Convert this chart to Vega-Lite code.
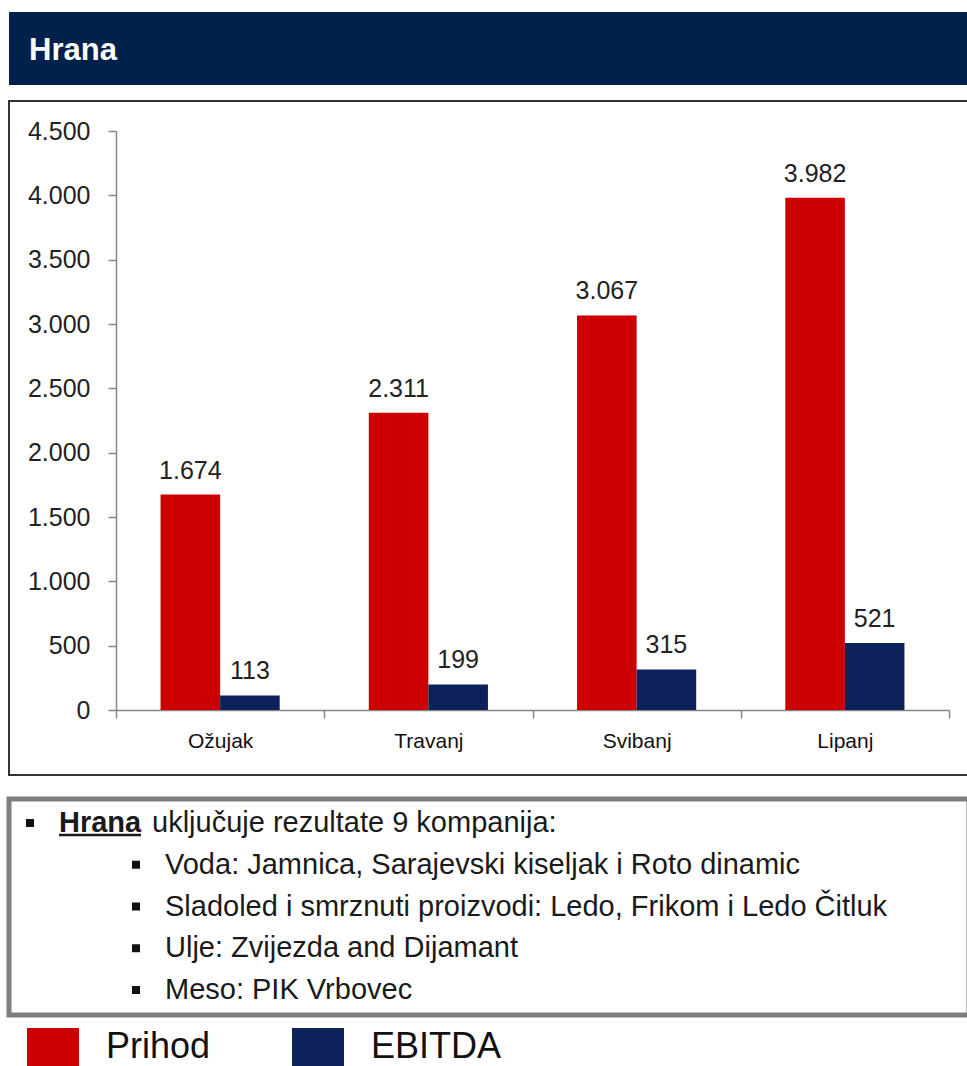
{
  "$schema": "https://vega.github.io/schema/vega-lite/v6.json",
  "padding": {"left": 6, "top": 12, "right": 0, "bottom": 0},
  "background": "white",
  "config": {
    "font": "Liberation Sans",
    "locale": {"number": {"decimal": ",", "thousands": ".", "grouping": [3], "currency": ["", ""]}},
    "view": {"stroke": null}
  },
  "spacing": 15,
  "vconcat": [
    {
      "width": 960,
      "height": 73,
      "view": {"fill": "#00214A", "stroke": null},
      "data": {"values": [{"heading": "Hrana"}]},
      "mark": {"type": "text", "x": 20, "y": 48, "align": "left", "baseline": "alphabetic", "fontSize": 31, "fontWeight": "bold", "color": "#FFFFFF"},
      "encoding": {"text": {"field": "heading"}}
    },
    {
      "spacing": 20,
      "vconcat": [
        {
          "width": 960,
          "height": 674,
          "view": {"stroke": "#333333", "strokeWidth": 2, "fill": "white"},
          "data": {"values": [
            {"month": "Ožujak", "series": "Prihod", "value": 1674},
            {"month": "Ožujak", "series": "EBITDA", "value": 113},
            {"month": "Travanj", "series": "Prihod", "value": 2311},
            {"month": "Travanj", "series": "EBITDA", "value": 199},
            {"month": "Svibanj", "series": "Prihod", "value": 3067},
            {"month": "Svibanj", "series": "EBITDA", "value": 315},
            {"month": "Lipanj", "series": "Prihod", "value": 3982},
            {"month": "Lipanj", "series": "EBITDA", "value": 521}
          ]},
          "encoding": {
            "x": {
              "field": "month", "type": "nominal",
              "sort": ["Ožujak", "Travanj", "Svibanj", "Lipanj"],
              "scale": {"type": "band", "range": [107, 940], "paddingInner": 0, "paddingOuter": 0},
              "axis": {"title": null, "orient": "bottom", "offset": -65, "labelAngle": 0, "labelFontSize": 21, "labelColor": "#111111", "labelPadding": 12, "tickBand": "extent", "tickSize": 8, "tickColor": "#868686", "tickWidth": 1.5, "domainColor": "#868686", "domainWidth": 1.5, "grid": false}
            },
            "xOffset": {
              "field": "series", "type": "nominal", "sort": ["Prihod", "EBITDA"],
              "scale": {"domain": ["Prihod", "EBITDA"], "paddingInner": 0, "paddingOuter": 0.748}
            },
            "y": {
              "field": "value", "type": "quantitative",
              "scale": {"domain": [0, 4500], "range": [609, 30], "nice": false, "zero": true},
              "axis": {"title": null, "offset": -107, "values": [0, 500, 1000, 1500, 2000, 2500, 3000, 3500, 4000, 4500], "format": ",d", "labelFontSize": 25, "labelColor": "#222222", "labelPadding": 18, "tickSize": 8, "tickColor": "#868686", "tickWidth": 1.5, "domainColor": "#868686", "domainWidth": 1.5, "grid": false}
            }
          },
          "layer": [
            {
              "mark": {"type": "bar"},
              "encoding": {
                "color": {
                  "field": "series", "type": "nominal",
                  "scale": {"domain": ["Prihod", "EBITDA"], "range": ["#CC0000", "#0D215A"]},
                  "legend": {
                    "orient": "none", "legendX": 25, "legendY": 1016,
                    "direction": "horizontal", "title": null, "padding": 0,
                    "symbolType": "M-1.368,-1L1.368,-1L1.368,1L-1.368,1Z",
                    "symbolSize": 1444, "symbolStrokeWidth": 0,
                    "labelFontSize": 36, "labelOffset": 34, "labelColor": "#111111",
                    "columnPadding": 81
                  }
                }
              }
            },
            {
              "mark": {"type": "text", "baseline": "alphabetic", "dy": -16, "fontSize": 25, "color": "#222222"},
              "encoding": {"text": {"field": "value", "type": "quantitative", "format": ",d"}}
            }
          ]
        },
        {
          "width": 960,
          "height": 216,
          "view": {"stroke": "#7F7F7F", "strokeWidth": 5, "fill": "white"},
          "data": {"values": [
            {"line": 1, "level": 0, "segment": "lead", "text": "Hrana"},
            {"line": 1, "level": 0, "segment": "rest", "text": "uključuje rezultate 9 kompanija:"},
            {"line": 2, "level": 1, "segment": "item", "text": "Voda: Jamnica, Sarajevski kiseljak i Roto dinamic"},
            {"line": 3, "level": 1, "segment": "item", "text": "Sladoled i smrznuti proizvodi: Ledo, Frikom i Ledo Čitluk"},
            {"line": 4, "level": 1, "segment": "item", "text": "Ulje: Zvijezda and Dijamant"},
            {"line": 5, "level": 1, "segment": "item", "text": "Meso: PIK Vrbovec"}
          ]},
          "encoding": {
            "x": {"field": "level", "type": "quantitative", "scale": {"domain": [0, 1], "range": [50, 156]}, "axis": null},
            "y": {"field": "line", "type": "ordinal", "scale": {"type": "point", "domain": [1, 2, 3, 4, 5], "range": [33, 200], "padding": 0}, "axis": null}
          },
          "layer": [
            {
              "transform": [{"filter": "datum.segment === 'lead'"}],
              "mark": {"type": "text", "align": "left", "baseline": "alphabetic", "fontSize": 29, "fontWeight": "bold", "color": "#1A1A1A"},
              "encoding": {"text": {"field": "text"}}
            },
            {
              "transform": [{"filter": "datum.segment === 'lead'"}],
              "mark": {"type": "rule", "x2Offset": 82, "yOffset": 3, "strokeWidth": 2.5, "color": "#1A1A1A"},
              "encoding": {"x2": {"field": "level"}}
            },
            {
              "transform": [{"filter": "datum.segment === 'rest'"}],
              "mark": {"type": "text", "align": "left", "baseline": "alphabetic", "fontSize": 29, "dx": 93, "color": "#1A1A1A"},
              "encoding": {"text": {"field": "text"}}
            },
            {
              "transform": [{"filter": "datum.segment === 'item'"}],
              "mark": {"type": "text", "align": "left", "baseline": "alphabetic", "fontSize": 29, "color": "#1A1A1A"},
              "encoding": {"text": {"field": "text"}}
            },
            {
              "transform": [{"filter": "datum.segment !== 'rest'"}],
              "mark": {"type": "point", "shape": "square", "filled": true, "size": 64, "opacity": 1, "color": "#111111", "xOffset": -29, "yOffset": -9},
              "encoding": {}
            }
          ]
        }
      ]
    }
  ]
}
